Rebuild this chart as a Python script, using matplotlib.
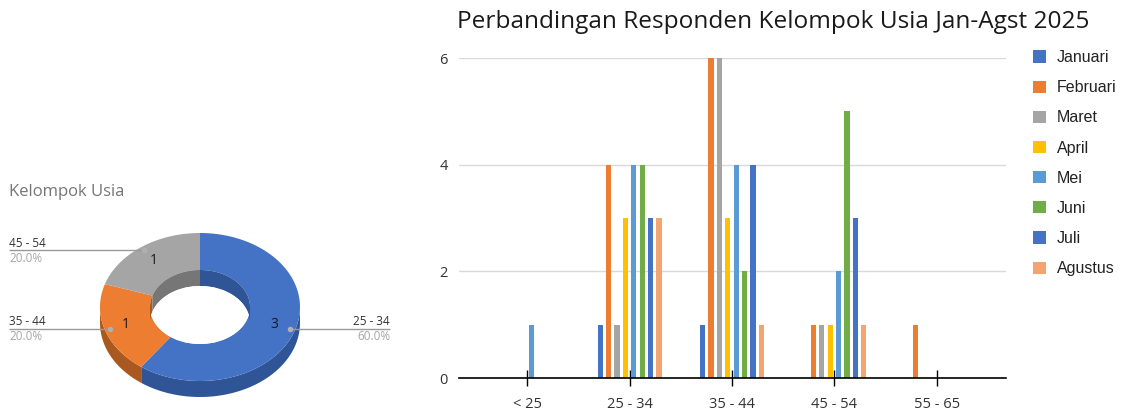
"""Donut kelompok usia + bar chart responden per bulan."""

import numpy as np
import matplotlib

matplotlib.use("Agg")
import matplotlib.pyplot as plt
from matplotlib.patches import Polygon, Ellipse

# ---- data ----
age_groups = ["< 25", "25 - 34", "35 - 44", "45 - 54", "55 - 65"]
months = ["Januari", "Februari", "Maret", "April", "Mei", "Juni", "Juli", "Agustus"]
januari = [0, 1, 1, 0, 0]
februari = [0, 4, 6, 1, 1]
maret = [0, 1, 6, 1, 0]
april = [0, 3, 3, 1, 0]
mei = [1, 4, 4, 2, 0]
juni = [0, 4, 2, 5, 0]
juli = [0, 3, 4, 3, 0]
agustus = [0, 3, 1, 1, 0]
month_values = [januari, februari, maret, april, mei, juni, juli, agustus]
month_colors = ["#4472C4", "#ED7D31", "#A5A5A5", "#FFC000",
                "#5B9BD5", "#70AD47", "#4472C4", "#F4A46F"]

donut_labels = ["25 - 34", "35 - 44", "45 - 54"]
donut_values = [3, 1, 1]
donut_top = ["#4472C4", "#ED7D31", "#A5A5A5"]
donut_side = ["#2F5597", "#A9591F", "#767676"]

TITLE = "Perbandingan Responden Kelompok Usia Jan-Agst 2025"
DONUT_TITLE = "Kelompok Usia"

W, H = 1126, 417
fig = plt.figure(figsize=(W / 100, H / 100), dpi=100)

# ---- donut (pseudo 3D), axes in pixel coords ----
axd = fig.add_axes([0, 0, 420 / W, 1])
axd.set_xlim(0, 420)
axd.set_ylim(H, 0)
axd.axis("off")

cx, cy = 200.0, 307.0
rxo, ryo = 100.0, 74.0
rxi, ryi = 50.0, 37.0
depth = 16.0


def ring_pts(t_deg, rx, ry, dy=0.0):
    t = np.radians(t_deg)
    return np.column_stack([cx + rx * np.sin(t), cy - ry * np.cos(t) + dy])


def overlap(a, b, lo, hi):
    s, e = max(a, lo), min(b, hi)
    return (s, e) if e > s else None


total = sum(donut_values)
bounds = np.concatenate([[0], np.cumsum(donut_values) / total * 360])

for i in range(len(donut_values)):
    a, b = bounds[i], bounds[i + 1]
    # outer front wall
    seg = overlap(a, b, 90, 270)
    if seg:
        t = np.linspace(seg[0], seg[1], 80)
        pts = np.vstack([ring_pts(t, rxo, ryo), ring_pts(t[::-1], rxo, ryo, depth)])
        axd.add_patch(Polygon(pts, closed=True, fc=donut_side[i], ec="none", zorder=1))
    # top face
    t = np.linspace(a, b, 120)
    pts = np.vstack([ring_pts(t, rxo, ryo), ring_pts(t[::-1], rxi, ryi)])
    axd.add_patch(Polygon(pts, closed=True, fc=donut_top[i], ec="none", zorder=2))
    # inner far wall
    for lo, hi in [(270, 360), (0, 90)]:
        seg = overlap(a, b, lo, hi)
        if seg:
            t = np.linspace(seg[0], seg[1], 60)
            pts = np.vstack([ring_pts(t, rxi, ryi), ring_pts(t[::-1], rxi, ryi, depth)])
            axd.add_patch(Polygon(pts, closed=True, fc=donut_side[i], ec="none", zorder=3))

hole_clip = Ellipse((cx, cy), 2 * rxi, 2 * ryi, fc="none", ec="none")
axd.add_patch(hole_clip)
hole = Ellipse((cx, cy + depth), 2 * rxi, 2 * ryi, fc="white", ec="none", zorder=4)
axd.add_patch(hole)
hole.set_clip_path(hole_clip)

axd.text(9, 192, DONUT_TITLE, fontsize=12, color="#757575", family="Open Sans",
         ha="left", va="center")

for i, (lab, val) in enumerate(zip(donut_labels, donut_values)):
    mid = (bounds[i] + bounds[i + 1]) / 2
    vx, vy = ring_pts([mid], rxo * 0.78, ryo * 0.78)[0]
    axd.text(vx, vy, str(val), fontsize=10, color="#1a1a1a", family="Open Sans",
             ha="center", va="center", zorder=6)
    px, py = ring_pts([mid], rxo * 0.945, ryo * 0.945)[0]
    pct = f"{val / total * 100:.1f}%"
    if px > cx:
        xl, ha = 390, "right"
    else:
        xl, ha = 9, "left"
    axd.plot([px, xl], [py, py], color="#9A9A9A", lw=1.0, zorder=5, solid_capstyle="butt")
    axd.plot([px], [py], "o", ms=3, color="#B0B0B0", zorder=6)
    axd.text(xl, py - 7, lab, fontsize=8.5, color="#333333", family="Open Sans",
             ha=ha, va="center")
    axd.text(xl, py + 8, pct, fontsize=8.5, color="#A6A6A6", family="Open Sans",
             ha=ha, va="center")

# ---- grouped bar chart ----
ax = fig.add_axes([459 / W, 1 - 378 / H, (1006 - 459) / W, (378 - 58) / H])
x = np.arange(len(age_groups))
step = 0.082
width = 0.05
n = len(months)
handles = []
for k, (name, vals, col) in enumerate(zip(months, month_values, month_colors)):
    h = ax.bar(x + (k - (n - 1) / 2) * step, vals, width=width, color=col,
               label=name, zorder=3, clip_on=False)
    handles.append(h)

ax.set_xlim(-0.665, 4.675)
ax.set_ylim(0, 6)
ax.set_yticks([0, 2, 4, 6])
ax.grid(axis="y", color="#D9D9D9", lw=1.0, zorder=0)
ax.set_axisbelow(True)
for s in ["top", "right", "left"]:
    ax.spines[s].set_visible(False)
ax.spines["bottom"].set_color("black")
ax.spines["bottom"].set_linewidth(1.2)
ax.spines["bottom"].set_zorder(4)
ax.set_xticks(x)
ax.set_xticklabels(age_groups)
ax.tick_params(axis="x", direction="inout", length=11.5, width=1.0, color="black",
               pad=8, labelsize=10.5, labelcolor="#333333")
ax.tick_params(axis="y", length=0, pad=8, labelsize=10.5, labelcolor="#333333")
for lab in ax.get_xticklabels() + ax.get_yticklabels():
    lab.set_family("Open Sans")

fig.text(773 / W, 1 - 22 / H, TITLE, fontsize=17.6, family="Open Sans",
         color="#1a1a1a", ha="center", va="center")

leg = fig.legend(handles=handles, labels=months, loc="upper left",
                 bbox_to_anchor=(1033 / W, 1 - 50 / H), frameon=False,
                 prop={"family": "Liberation Sans", "size": 11.5},
                 handlelength=0.8, handleheight=0.8, handletextpad=0.7,
                 labelspacing=0.95, borderpad=0, borderaxespad=0)
for t in leg.get_texts():
    t.set_color("#222222")

fig.savefig("out.png", dpi=100, facecolor="white")
